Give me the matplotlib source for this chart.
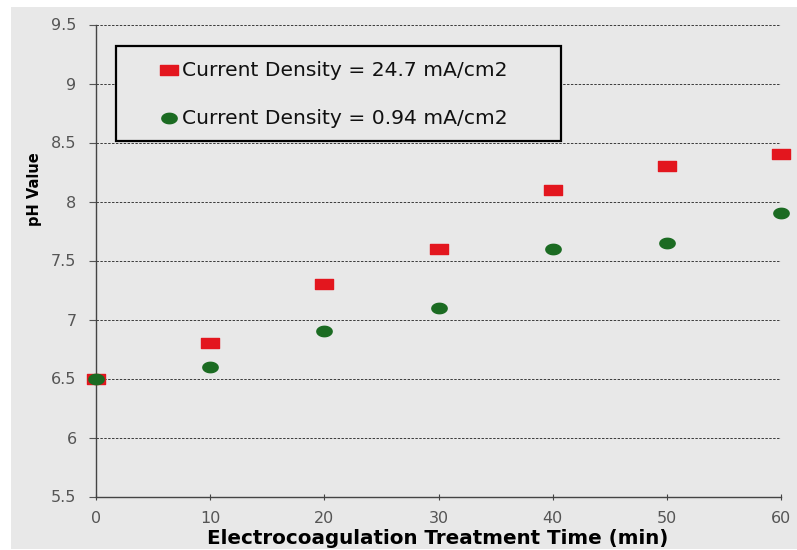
import numpy as np
import matplotlib.pyplot as plt
from matplotlib.patches import Rectangle
from matplotlib.path import Path

# electrocoagulation time (min) and measured pH
time_min = [0, 10, 20, 30, 40, 50, 60]
ph_high = [6.5, 6.8, 7.3, 7.6, 8.1, 8.3, 8.4]     # 24.7 mA/cm2
ph_low = [6.5, 6.6, 6.9, 7.1, 7.6, 7.65, 7.9]     # 0.94 mA/cm2
labels = ['Current Density = 24.7 mA/cm2', 'Current Density = 0.94 mA/cm2']
yticks = [5.5, 6, 6.5, 7, 7.5, 8, 8.5, 9, 9.5]
xticks = [0, 10, 20, 30, 40, 50, 60]

bg = '#e8e8e8'
red = '#e3161e'
green = '#1b6b22'

# wide rectangle and flat ellipse markers
rect = Path([(-1, -0.6), (1, -0.6), (1, 0.6), (-1, 0.6), (-1, -0.6)],
            [Path.MOVETO, Path.LINETO, Path.LINETO, Path.LINETO, Path.CLOSEPOLY])
t = np.linspace(0, 2 * np.pi, 60)
ell = Path(np.column_stack([np.cos(t), 0.68 * np.sin(t)]), closed=True)

fig = plt.figure(figsize=(7.97, 5.5), dpi=100)
fig.patch.set_facecolor('white')
fig.patches.append(Rectangle((11 / 797, 0.002), 1, 1 - 7 / 550 - 0.002,
                             transform=fig.transFigure, facecolor=bg,
                             edgecolor='none', zorder=-10))
ax = fig.add_axes([96 / 797, 1 - 496.5 / 550, 685 / 797, 472 / 550])
ax.set_facecolor(bg)

ax.plot(time_min, ph_high, linestyle='none', marker=rect, markersize=13,
        color=red, clip_on=False, zorder=3)
ax.plot(time_min, ph_low, linestyle='none', marker=ell, markersize=11,
        color=green, clip_on=False, zorder=4)

ax.set_xlim(0, 60)
ax.set_ylim(5.5, 9.5)
ax.set_xticks(xticks)
ax.set_yticks(yticks)
ax.set_yticklabels([f'{v:g}' for v in yticks])
ax.yaxis.grid(True, linestyle=(0, (2.5, 1.5)), color='#3a3a3a', linewidth=0.7)
ax.set_axisbelow(True)

for s in ['top', 'right']:
    ax.spines[s].set_visible(False)
for s in ['left', 'bottom']:
    ax.spines[s].set_color('#444444')
    ax.spines[s].set_linewidth(1.0)

ax.tick_params(axis='y', direction='out', length=5, pad=9, colors='#555555',
               labelsize=11.5, labelcolor='#555555')
ax.tick_params(axis='x', direction='inout', length=5, pad=8, colors='#444444',
               labelsize=11.5, labelcolor='#555555')

ax.set_xlabel('Electrocoagulation Treatment Time (min)', fontsize=14.3,
              fontweight='bold', va='center')
ax.xaxis.set_label_coords(0.499, (496.5 - 538) / 472)
ax.set_ylabel('pH Value', fontsize=10.5, fontweight='bold', va='center')
ax.yaxis.set_label_coords((35 - 96) / 685, (496.5 - 189) / 472)

# legend box
x0, x1 = 20 / 685, 465 / 685
y0, y1 = (496.5 - 141) / 472, (496.5 - 46) / 472
ax.add_patch(Rectangle((x0, y0), x1 - x0, y1 - y0, transform=ax.transAxes,
                       facecolor=bg, edgecolor='black', linewidth=1.6,
                       zorder=5, clip_on=False))
rows = [(496.5 - 70) / 472, (496.5 - 118) / 472]
mx = 73 / 685
tx = 86 / 685
ax.plot([mx], [rows[0]], transform=ax.transAxes, marker=rect, markersize=13,
        color=red, linestyle='none', zorder=6, clip_on=False)
ax.plot([mx], [rows[1]], transform=ax.transAxes, marker=ell, markersize=11,
        color=green, linestyle='none', zorder=6, clip_on=False)
for lab, yy in zip(labels, rows):
    ax.text(tx, yy, lab, transform=ax.transAxes, fontsize=14.6, va='center',
            ha='left', color='#111111', zorder=6)

fig.savefig('out.png', dpi=100, facecolor=fig.get_facecolor())
